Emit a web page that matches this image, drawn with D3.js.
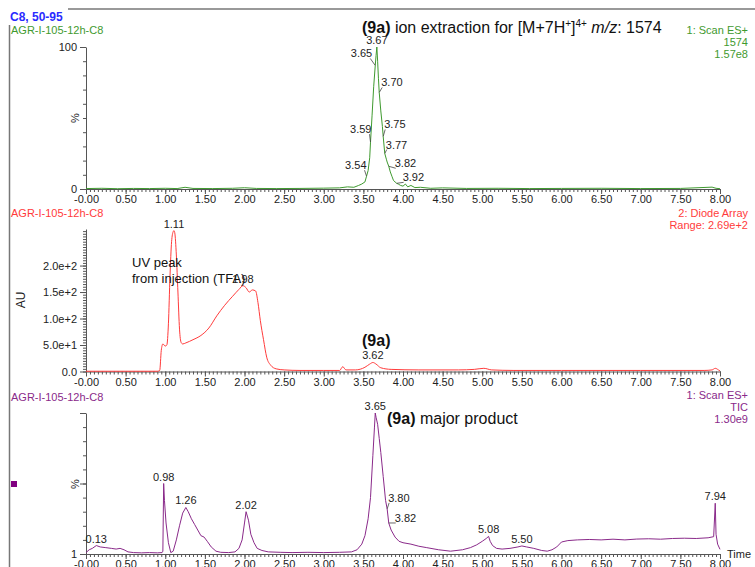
<!DOCTYPE html>
<html>
<head>
<meta charset="utf-8">
<script src="https://cdn.jsdelivr.net/npm/d3@7"></script>
<style>
  body { margin: 0; background: #fff; }
  svg { display: block; font-family: "Liberation Sans", Arial, sans-serif; }
</style>
</head>
<body>
<svg id="chart" width="755" height="567"></svg>
<script>
// retention time axis (min)
let xTicks = [0, 0.5, 1, 1.5, 2, 2.5, 3, 3.5, 4, 4.5, 5, 5.5, 6, 6.5, 7, 7.5, 8];

// panel 1: ion extraction m/z 1574 (% of 1.57e8)
let ionTime = [0.00,0.20,0.40,0.60,0.80,1.00,1.15,1.25,1.35,1.60,
    1.85,2.00,2.15,2.40,2.70,3.00,3.20,3.30,3.38,3.44,
    3.48,3.52,3.54,3.56,3.58,3.59,3.61,3.63,3.65,3.66,
    3.67,3.68,3.69,3.70,3.72,3.74,3.75,3.77,3.79,3.80,
    3.82,3.84,3.86,3.88,3.90,3.92,3.94,3.97,4.00,4.03,
    4.06,4.10,4.15,4.22,4.35,4.50,4.80,5.20,5.60,6.00,
    6.50,7.00,7.50,7.90,7.95,8.00];
let ionPct = [0.3,0.5,0.2,0.4,0.3,0.5,0.3,1.2,0.4,0.3,
    0.5,0.9,0.4,0.3,0.4,0.6,0.8,1.5,1.2,2.5,
    3.5,5,9,13,22,33,52,72,87,94,
    100,90,78,68,55,44,37,25,21,19,
    16,12,9,6,5,4,3.5,2.5,2,3.5,
    1.5,2.5,1,1.2,0.5,0.8,0.4,0.5,0.3,0.4,
    0.5,0.3,0.4,1.3,0.5,0.2];
let ionPeaks = ["3.54","3.59","3.65","3.67","3.70","3.75","3.77","3.82","3.92"];

// panel 2: diode array (AU)
let uvTime = [0.00,0.50,0.90,0.93,0.95,0.97,1.00,1.02,1.04,1.06,
    1.08,1.10,1.11,1.12,1.14,1.16,1.18,1.20,1.22,1.26,
    1.35,1.45,1.55,1.65,1.75,1.85,1.93,1.98,2.02,2.06,
    2.10,2.14,2.17,2.20,2.24,2.28,2.33,2.40,2.50,2.70,
    3.00,3.20,3.24,3.28,3.40,3.52,3.58,3.62,3.66,3.72,
    3.85,4.20,4.70,4.90,5.02,5.12,5.40,6.00,7.00,7.80,
    7.90,7.94,7.98,8.00];
let uvAU = [0.5,0.5,0.5,2,40,52,48,50,90,180,
    245,264,266,262,220,150,80,55,52,54,
    60,68,82,105,125,142,155,162,158,150,
    154,152,130,96,60,27,12,5,3,2,
    2,2,9,3,3,8,14,17,14,7,
    4,3,3,4,6,3,2,2,2,2,
    3,6,3,1];
let uvTicks = [0, 50, 100, 150, 200];
let uvTickLabels = ["0.0", "5.0e+1", "1.0e+2", "1.5e+2", "2.0e+2"];
let uvPeaks = ["1.11", "1.98", "3.62"];

// panel 3: TIC (% of 1.30e9)
let ticTime = [0.00,0.04,0.08,0.13,0.18,0.25,0.32,0.38,0.43,0.48,
    0.53,0.60,0.70,0.80,0.90,0.96,0.97,0.98,0.99,1.01,
    1.04,1.07,1.10,1.14,1.18,1.22,1.26,1.29,1.33,1.37,
    1.41,1.45,1.49,1.53,1.58,1.64,1.70,1.80,1.88,1.93,
    1.97,2.00,2.02,2.05,2.08,2.12,2.16,2.22,2.30,2.45,
    2.60,2.80,3.00,3.20,3.35,3.42,3.48,3.52,3.56,3.59,
    3.62,3.64,3.65,3.66,3.68,3.70,3.72,3.75,3.78,3.80,
    3.82,3.85,3.90,3.95,4.00,4.10,4.20,4.30,4.45,4.60,
    4.75,4.85,4.93,5.00,5.05,5.08,5.10,5.13,5.18,5.25,
    5.35,5.45,5.50,5.56,5.65,5.75,5.82,5.88,5.94,6.00,
    6.08,6.20,6.35,6.50,6.65,6.80,6.95,7.10,7.25,7.40,
    7.55,7.70,7.85,7.92,7.94,7.95,7.97,8.00];
let ticPct = [1,3,4,6,5,4.5,4,3.5,4,3,
    1.5,1,0.8,1,0.8,1,2,50,38,22,
    8,1,2,10,20,29,33,30,25,21,
    17,13,12,9,5,2,1.2,1,1.5,4,
    10,22,30,24,14,8,4,2.5,1.5,1.2,
    1,1.2,1,1.2,1.5,3,7,13,25,40,
    70,90,100,97,92,82,72,55,38,32,
    22,17,12,9,8,7,5.5,4.5,3,2,
    3,4.5,6.5,9,11,12.5,9,6,4,3.5,
    4,5,5.7,5,4,2.5,2,3,5,8.5,
    9.5,10,10.3,10,10.5,10,10.6,10.8,10.5,11,
    11.2,11,11.5,12.3,36,14,7,3.3];
let ticPeaks = ["0.13","0.98","1.26","2.02","3.65","3.80","3.82","5.08","5.50","7.94"];

let sampleName = "AGR-I-105-12h-C8";

const svg = d3.select("#chart");
const GREEN = "#3f9a2f", RED = "#ff3b3b", PURPLE = "#8a2a8a";
const AXIS = "#555", TXT = "#222";

let x = d3.scaleLinear().domain([0, 8]).range([86, 720]);

let y1 = d3.scaleLinear().domain([0, 100]).range([189, 47]);
let y2 = d3.scaleLinear().domain([0, 269]).range([371.5, 229]);
let y3 = d3.scaleLinear().domain([0, 100]).range([554, 413]);

// frame lines
svg.append("line").attr("x1", 68).attr("x2", 755).attr("y1", 9).attr("y2", 9)
    .attr("stroke", "#777").attr("stroke-width", 1.5);
svg.append("line").attr("x1", 9.5).attr("x2", 9.5).attr("y1", 25).attr("y2", 567)
    .attr("stroke", "#777").attr("stroke-width", 1.5);
svg.append("text").attr("x", 10).attr("y", 21).text("C8, 50-95")
    .attr("fill", "#2a2aff").attr("font-weight", "bold").attr("font-size", 12);

function fmtX(d) {
    return d === 0 ? "-0.00" : d3.format(".2f")(d);
}

function drawXAxis(yPos) {
    let g = svg.append("g").attr("transform", `translate(0,${yPos})`);
    // minor ticks every 0.05
    g.append("g").call(d3.axisBottom(x).tickValues(d3.range(0, 8.001, 0.05)).tickSize(3).tickFormat(""))
        .call(a => a.select(".domain").remove());
    g.append("g").call(d3.axisBottom(x).tickValues(xTicks).tickSize(5).tickSizeOuter(0).tickFormat(fmtX));
    g.selectAll("line,path").attr("stroke", AXIS);
    g.selectAll("text").attr("font-size", 11).attr("fill", TXT).attr("font-family", "Liberation Sans, Arial").attr("dy", "0.55em");
    return g;
}

function drawYAxis(scale, major, labels, minorStep, minorMax) {
    let g = svg.append("g").attr("transform", "translate(86,0)");
    g.append("g").call(d3.axisLeft(scale).tickValues(d3.range(0, minorMax + 0.001, minorStep)).tickSize(3).tickFormat(""))
        .call(a => a.select(".domain").remove());
    g.append("g").call(d3.axisLeft(scale).tickValues(major).tickSize(6).tickSizeOuter(0)
        .tickFormat((d, i) => labels[i]));
    g.selectAll("line,path").attr("stroke", AXIS);
    g.selectAll("text").attr("font-size", 11).attr("fill", TXT).attr("font-family", "Liberation Sans, Arial");
    return g;
}

function yLabel(txt, xPos, yPos, size) {
    svg.append("text").attr("transform", `translate(${xPos},${yPos}) rotate(-90)`)
        .attr("text-anchor", "middle").attr("font-size", size).attr("fill", TXT).text(txt);
}

function trace(times, vals, yScale, color, curve) {
    let pts = d3.zip(times, vals);
    svg.append("path").datum(pts)
        .attr("fill", "none").attr("stroke", color).attr("stroke-width", 1)
        .attr("d", d3.line().x(d => x(d[0])).y(d => yScale(d[1])).curve(curve));
    return pts;
}

function valueAt(times, vals, t) {
    let i = d3.bisectLeft(times, t);
    if (i <= 0) return vals[0];
    if (i >= times.length) return vals[vals.length - 1];
    let k = (t - times[i - 1]) / (times[i] - times[i - 1]);
    return vals[i - 1] + k * (vals[i] - vals[i - 1]);
}

// peak labels; lay = [dx, dy, anchor] from the curve point, anchor "middle" means no leader
function peakLabels(list, times, vals, yScale, lay) {
    list.forEach(function(lbl, i) {
        let t = +lbl;
        let px = x(t), py = yScale(valueAt(times, vals, t));
        let l = lay[i] || [0, -3, "middle"];
        let tx = px + l[0], ty = py + l[1];
        svg.append("text").attr("x", tx).attr("y", ty).attr("text-anchor", l[2])
            .attr("font-size", 11).attr("fill", TXT).text(lbl);
        if (l[2] !== "middle") {
            let cx = l[2] === "end" ? tx - 2 : tx + 1;
            svg.append("line").attr("x1", cx).attr("y1", ty + 1).attr("x2", px).attr("y2", py)
                .attr("stroke", "#444").attr("stroke-width", 0.8);
        }
    });
}

function sampleLabel(yPos, color) {
    svg.append("text").attr("x", 11).attr("y", yPos).attr("font-size", 11)
        .attr("fill", color).text(sampleName);
}

function rightLabels(lines, yStart, color) {
    lines.forEach(function(s, i) {
        svg.append("text").attr("x", 748).attr("y", yStart + i * 11.8).attr("text-anchor", "end")
            .attr("font-size", 11).attr("fill", color).text(s);
    });
}

// ---- panel 1
sampleLabel(34, GREEN);
rightLabels(["1: Scan ES+", "1574", "1.57e8"], 34, GREEN);
drawYAxis(y1, [0, 100], ["0", "100"], 10, 100);
yLabel("%", 79, 118, 11);
drawXAxis(189);
trace(ionTime, ionPct, y1, GREEN, d3.curveLinear);
peakLabels(ionPeaks, ionTime, ionPct, y1, [
    [0, -7, "end"], [1, -9, "end"], [-3, -8, "end"], [0, -3, "middle"], [2, -6, "start"],
    [1, -8, "start"], [1, -5, "start"], [6, 1, "start"], [6, -2, "start"]
]);

let t1 = svg.append("text").attr("x", 362).attr("y", 33).attr("font-size", 16).attr("fill", "#111");
t1.append("tspan").attr("font-weight", "bold").text("(9a)");
t1.append("tspan").text(" ion extraction for [M+7H");
t1.append("tspan").attr("font-size", 10).attr("dy", -6).text("+");
t1.append("tspan").attr("dy", 6).text("]");
t1.append("tspan").attr("font-size", 10).attr("dy", -6).text("4+");
t1.append("tspan").attr("dy", 6).text(" ");
t1.append("tspan").attr("font-style", "italic").text("m/z");
t1.append("tspan").text(": 1574");

// ---- panel 2
sampleLabel(217, RED);
rightLabels(["2: Diode Array", "Range: 2.69e+2"], 217, RED);
drawYAxis(y2, uvTicks, uvTickLabels, 5, 265);
yLabel("AU", 25, 300, 12);
drawXAxis(371.5);
trace(uvTime, uvAU, y2, RED, d3.curveMonotoneX);
peakLabels(uvPeaks, uvTime, uvAU, y2, []);
svg.append("text").attr("x", 132).attr("y", 267).attr("font-size", 13).attr("fill", "#111").text("UV peak");
svg.append("text").attr("x", 132).attr("y", 283).attr("font-size", 13).attr("fill", "#111").text("from injection (TFA)");
svg.append("text").attr("x", 362).attr("y", 346).attr("font-size", 16).attr("font-weight", "bold")
    .attr("fill", "#111").text("(9a)");

// ---- panel 3
sampleLabel(401, PURPLE);
rightLabels(["1: Scan ES+", "TIC", "1.30e9"], 399, PURPLE);
drawYAxis(y3, [0, 50, 100], ["1", "", ""], 10, 100);
yLabel("%", 79, 484, 11);
drawXAxis(554);
svg.append("text").attr("x", 727).attr("y", 558).attr("font-size", 11).attr("fill", TXT).text("Time");
svg.append("rect").attr("x", 11).attr("y", 481).attr("width", 6).attr("height", 6).attr("fill", "#800080");
trace(ticTime, ticPct, y3, PURPLE, d3.curveLinear);
peakLabels(ticPeaks, ticTime, ticPct, y3, [
    null, null, null, null, null, [1, -7, "start"], [6, -1, "start"]
]);
let t3 = svg.append("text").attr("x", 387).attr("y", 424).attr("font-size", 16).attr("fill", "#111");
t3.append("tspan").attr("font-weight", "bold").text("(9a)");
t3.append("tspan").text(" major product");
</script>
</body>
</html>
